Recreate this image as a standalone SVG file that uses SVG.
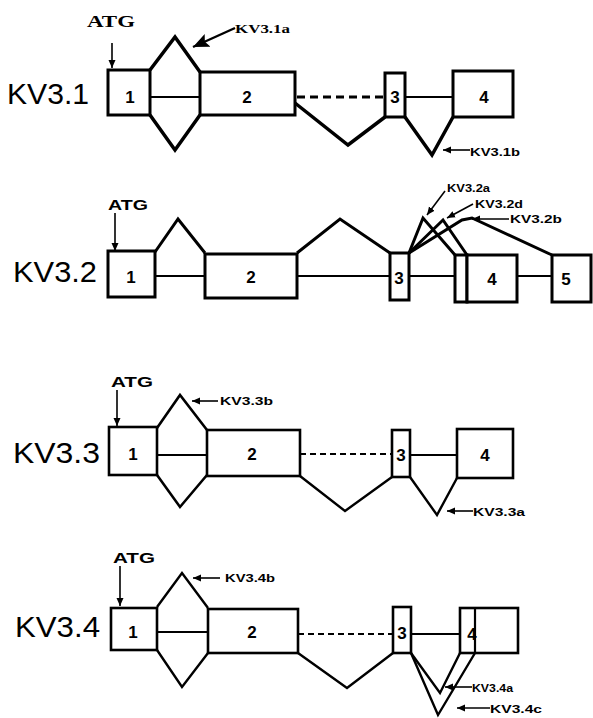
<svg xmlns="http://www.w3.org/2000/svg" width="593" height="718" viewBox="0 0 593 718">
<style>
.bg{fill:#fff}
.ex{fill:#fff;stroke:#000;stroke-width:3}
.ln{fill:none;stroke:#000;stroke-width:3;stroke-linejoin:miter}
.ln2{fill:none;stroke:#000;stroke-width:2.2}
.dash{fill:none;stroke:#000;stroke-width:3;stroke-dasharray:8 5}
.dash2{fill:none;stroke:#000;stroke-width:2;stroke-dasharray:6 4}
.ar{fill:none;stroke:#000;stroke-width:1.6}
.big{font-family:"Liberation Sans",Arial,sans-serif;font-size:29px;fill:#000}
.num{font-family:"Liberation Sans",Arial,sans-serif;font-weight:bold;font-size:17px;fill:#000;text-anchor:middle}
.atg{font-family:"Liberation Sans",Arial,sans-serif;font-weight:bold;font-size:14px;fill:#000}
.lab{font-family:"Liberation Sans",Arial,sans-serif;font-weight:bold;font-size:11px;fill:#000}
.ser{font-family:"Liberation Serif","Times New Roman",serif;font-weight:bold;fill:#000}
</style>
<defs>
<marker id="ah" markerUnits="userSpaceOnUse" markerWidth="10" markerHeight="8" refX="8" refY="4" orient="auto"><path d="M0,0.5 L8,4 L0,7.5 Z" fill="#000"/></marker>
<marker id="ahBig" markerUnits="userSpaceOnUse" markerWidth="18" markerHeight="14" refX="16" refY="7" orient="auto"><path d="M0,0 L16,7 L0,14 L3,7 Z" fill="#000"/></marker>
</defs>
<rect class="bg" x="0" y="0" width="593" height="718"/>

<!-- KV3.1 -->
<g id="kv31">
<text class="big" x="7" y="104" textLength="82" lengthAdjust="spacingAndGlyphs">KV3.1</text>
<text class="ser" x="87" y="27" font-size="17" textLength="48" lengthAdjust="spacingAndGlyphs">ATG</text>
<line class="ar" x1="112" y1="43" x2="112" y2="68" marker-end="url(#ah)"/>
<rect id="kv31-e1" class="ex" x="108" y="70" width="42" height="45"/>
<rect id="kv31-e2" class="ex" x="200" y="72" width="95" height="43"/>
<rect id="kv31-e3" class="ex" x="385" y="73" width="20" height="44"/>
<rect id="kv31-e4" class="ex" x="453" y="71" width="60" height="46"/>
<text class="num" x="130" y="103">1</text>
<text class="num" x="247" y="103">2</text>
<text class="num" x="395" y="103">3</text>
<text class="num" x="484" y="103">4</text>
<text class="ser" x="235" y="33" font-size="13" textLength="55" lengthAdjust="spacingAndGlyphs">KV3.1a</text>
<text class="lab" x="470" y="156" font-size="12" textLength="50" lengthAdjust="spacingAndGlyphs">KV3.1b</text>
</g>

<!-- KV3.2 -->
<g id="kv32">
<text class="big" x="13" y="282" textLength="84" lengthAdjust="spacingAndGlyphs">KV3.2</text>
<text class="atg" font-family="Liberation Sans, Arial, sans-serif" x="108" y="210" textLength="40" lengthAdjust="spacingAndGlyphs">ATG</text>
<line class="ar" x1="115" y1="213" x2="115" y2="251" marker-end="url(#ah)"/>
<rect id="kv32-e1" class="ex" x="108" y="251" width="47" height="46"/>
<rect id="kv32-e2" class="ex" x="205" y="254" width="92" height="44"/>
<rect id="kv32-e3" class="ex" x="390" y="253" width="19" height="47"/>
<rect id="kv32-e4a" class="ex" x="455" y="255" width="12" height="47"/>
<rect id="kv32-e4" class="ex" x="467" y="255" width="50" height="47"/>
<rect id="kv32-e5" class="ex" x="552" y="255" width="39" height="47"/>
<text class="num" x="131" y="283" font-size="16">1</text>
<text class="num" x="251" y="283" font-size="16">2</text>
<text class="num" x="399" y="284" font-size="16">3</text>
<text class="num" x="492" y="285" font-size="16">4</text>
<text class="num" x="566" y="285" font-size="16">5</text>
<text class="lab" x="447" y="192" font-size="12" textLength="43" lengthAdjust="spacingAndGlyphs">KV3.2a</text>
<text class="lab" x="475" y="208" font-size="12" textLength="48" lengthAdjust="spacingAndGlyphs">KV3.2d</text>
<text class="lab" x="510" y="223" font-size="12" textLength="52" lengthAdjust="spacingAndGlyphs">KV3.2b</text>
</g>

<!-- KV3.3 -->
<g id="kv33">
<text class="big" x="13" y="463" textLength="87" lengthAdjust="spacingAndGlyphs">KV3.3</text>
<text class="atg" font-family="Liberation Sans, Arial, sans-serif" x="111" y="387" font-size="15" textLength="42" lengthAdjust="spacingAndGlyphs">ATG</text>
<line class="ar" x1="117" y1="390" x2="117" y2="426" marker-end="url(#ah)"/>
<rect id="kv33-e1" class="ex" x="109" y="427" width="48" height="48" style="stroke-width:2.6"/>
<rect id="kv33-e2" class="ex" x="207" y="430" width="93" height="46" style="stroke-width:2.6"/>
<rect id="kv33-e3" class="ex" x="392" y="430" width="18" height="47" style="stroke-width:2.6"/>
<rect id="kv33-e4" class="ex" x="457" y="429" width="56" height="49" style="stroke-width:2.6"/>
<text class="num" x="133" y="460">1</text>
<text class="num" x="252" y="460">2</text>
<text class="num" x="401" y="461">3</text>
<text class="num" x="485" y="461">4</text>
<text class="lab" x="220" y="405" font-size="10" textLength="53" lengthAdjust="spacingAndGlyphs">KV3.3b</text>
<text class="lab" x="473" y="516" font-size="12" textLength="52" lengthAdjust="spacingAndGlyphs">KV3.3a</text>
</g>

<!-- KV3.4 -->
<g id="kv34">
<text class="big" x="15" y="637" textLength="85" lengthAdjust="spacingAndGlyphs">KV3.4</text>
<text class="atg" font-family="Liberation Sans, Arial, sans-serif" x="113" y="563" font-size="15" textLength="42" lengthAdjust="spacingAndGlyphs">ATG</text>
<line class="ar" x1="120" y1="566" x2="120" y2="606" marker-end="url(#ah)"/>
<rect id="kv34-e1" class="ex" x="111" y="608" width="46" height="42" style="stroke-width:2.6"/>
<rect id="kv34-e2" class="ex" x="208" y="609" width="90" height="44" style="stroke-width:2.6"/>
<rect id="kv34-e3" class="ex" x="393" y="607" width="18" height="46" style="stroke-width:2.6"/>
<rect id="kv34-e4" class="ex" x="460" y="608" width="58" height="45" style="stroke-width:2.6"/>
<line class="ln2" x1="475" y1="608" x2="475" y2="653"/>
<text class="num" x="133" y="638">1</text>
<text class="num" x="252" y="638">2</text>
<text class="num" x="402" y="639">3</text>
<text class="num" x="472" y="640">4</text>
<text class="lab" x="225" y="582" font-size="10" textLength="50" lengthAdjust="spacingAndGlyphs">KV3.4b</text>
<text class="lab" x="472" y="692" font-size="12" textLength="41" lengthAdjust="spacingAndGlyphs">KV3.4a</text>
<text class="lab" x="490" y="713" font-size="12" textLength="52" lengthAdjust="spacingAndGlyphs">KV3.4c</text>
</g>

<g id="connectors">
<!-- KV3.1 -->
<polyline class="ln" points="150,70 175,37 200,72" style="stroke-width:3.5"/>
<polyline class="ln" points="150,115 175,150 200,115" style="stroke-width:3.5"/>
<line class="ln2" x1="150" y1="97" x2="200" y2="97"/>
<line class="dash" x1="297" y1="97" x2="385" y2="97"/>
<line class="ln2" x1="405" y1="97" x2="453" y2="97"/>
<polyline class="ln" points="295,103 348,145 385,117" style="stroke-width:3.5"/>
<polyline class="ln" points="405,117 432,155 453,117" style="stroke-width:3.5"/>
<line x1="235" y1="28" x2="193" y2="47" stroke="#000" stroke-width="2.4" marker-end="url(#ahBig)"/>
<line class="ar" x1="470" y1="150" x2="443" y2="150" marker-end="url(#ah)"/>
<!-- KV3.2 -->
<polyline class="ln" points="155,252 178,219 205,253"/>
<line class="ln2" x1="155" y1="276" x2="205" y2="276"/>
<polyline class="ln" points="297,253 340,219 390,253"/>
<line class="ln2" x1="297" y1="276" x2="390" y2="276"/>
<line class="ln2" x1="409" y1="276" x2="455" y2="276"/>
<line class="ln2" x1="517" y1="276" x2="552" y2="276"/>
<polyline class="ln" points="409,253 423,218 455,255"/>
<polyline class="ln" points="409,253 443,220 467,255"/>
<polyline class="ln" points="409,253 462,220 472,218 552,255"/>
<line class="ar" x1="445" y1="191" x2="427" y2="215" marker-end="url(#ah)"/>
<line class="ar" x1="473" y1="204" x2="447" y2="218" marker-end="url(#ah)"/>
<line class="ar" x1="509" y1="219" x2="472" y2="219" marker-end="url(#ah)"/>
<!-- KV3.3 -->
<polyline class="ln" points="157,428 180,395 207,430" style="stroke-width:2.6"/>
<polyline class="ln" points="157,475 180,507 207,475" style="stroke-width:2.6"/>
<line class="ln2" x1="157" y1="455" x2="207" y2="455"/>
<line class="dash2" x1="300" y1="454" x2="392" y2="454"/>
<line class="ln2" x1="410" y1="455" x2="457" y2="455"/>
<polyline class="ln" points="300,476 345,511 392,477" style="stroke-width:2.4"/>
<polyline class="ln" points="410,477 437,515 457,478" style="stroke-width:2.4"/>
<line class="ar" x1="218" y1="401" x2="192" y2="401" marker-end="url(#ah)"/>
<line class="ar" x1="473" y1="511" x2="447" y2="511" marker-end="url(#ah)"/>
<!-- KV3.4 -->
<polyline class="ln" points="157,607 182,573 208,608" style="stroke-width:2.4"/>
<polyline class="ln" points="157,650 182,687 208,653" style="stroke-width:2.4"/>
<line class="ln2" x1="157" y1="632" x2="208" y2="632"/>
<line class="dash2" x1="298" y1="634" x2="393" y2="634"/>
<line class="ln2" x1="411" y1="634" x2="460" y2="634"/>
<polyline class="ln" points="298,653 347,688 393,653" style="stroke-width:2.4"/>
<polyline class="ln" points="411,653 440,693 460,653" style="stroke-width:2.4"/>
<polyline class="ln" points="411,653 438,715 475,653" style="stroke-width:2.4"/>
<line class="ar" x1="220" y1="578" x2="193" y2="578" marker-end="url(#ah)"/>
<line class="ar" x1="472" y1="687" x2="445" y2="687" marker-end="url(#ah)"/>
<line class="ar" x1="490" y1="708" x2="457" y2="708" marker-end="url(#ah)"/>
</g>
</svg>
